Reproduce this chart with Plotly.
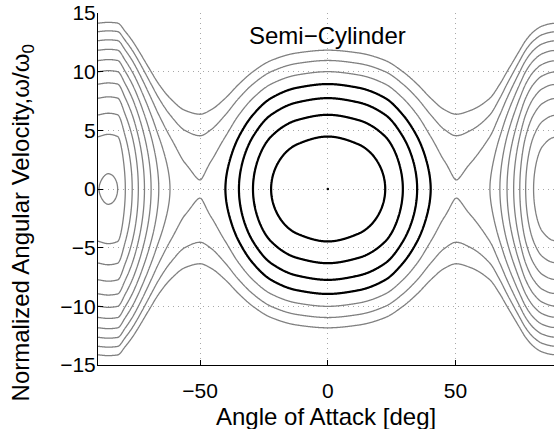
import numpy as np
import plotly.graph_objects as go

# ---- data ----
# potential-like function U(alpha): phase curves satisfy omega^2 + U(alpha) = level
alpha_knots = [-90, -86, -82.3, -79.3, -76.6, -74.2, -71.8, -69.2, -66.2, -61.8, -56, -50, -45.5,
               -40.1, -34.8, -29.3, -22.2, -12, 0, 12, 22.5, 29.4, 35.0, 40.3, 45.5, 50.3, 56,
               63.5, 67.4, 70.2, 72.8, 75.2, 77.5, 80.6, 84, 88.6, 92]
U_knots = [-59.8, -61.7, -60, -40, -20, 0, 20, 40, 60, 80, 95, 99.4, 94,
           80, 60, 40, 20, 5.5, 0, 5.5, 20, 40, 60, 80, 94, 99.4, 95,
           80, 60, 40, 20, 0, -20, -40, -53, -59.3, -59.6]
gray_levels = [-60, -40, -20, 0, 20, 40, 60, 80, 100, 120, 140]
black_levels = [20, 40, 60, 80]
center_alpha = [0]
center_omega = [0]
x_ticks = [-50, 0, 50]
y_ticks = [-15, -10, -5, 0, 5, 10, 15]


def pchip(xk, yk, x):
    xk = np.asarray(xk, float)
    yk = np.asarray(yk, float)
    h = np.diff(xk)
    d = np.diff(yk) / h
    n = len(xk)
    m = np.zeros(n)
    for k in range(1, n - 1):
        if d[k - 1] * d[k] <= 0:
            m[k] = 0.0
        else:
            w1 = 2 * h[k] + h[k - 1]
            w2 = h[k] + 2 * h[k - 1]
            m[k] = (w1 + w2) / (w1 / d[k - 1] + w2 / d[k])
    m[0] = d[0]
    m[-1] = d[-1]
    idx = np.clip(np.searchsorted(xk, x) - 1, 0, n - 2)
    t = (x - xk[idx]) / h[idx]
    h00 = 2 * t**3 - 3 * t**2 + 1
    h10 = t**3 - 2 * t**2 + t
    h01 = -2 * t**3 + 3 * t**2
    h11 = t**3 - t**2
    return h00 * yk[idx] + h10 * h[idx] * m[idx] + h01 * yk[idx + 1] + h11 * h[idx] * m[idx + 1]


alpha = np.round(np.arange(-90, 92.01, 0.25), 3)
omega = np.round(np.arange(-16, 16.001, 0.1), 3)
U = pchip(alpha_knots, U_knots, alpha)
Z = np.round(omega[:, None] ** 2 + U[None, :], 3)

mask = np.abs(alpha) <= 46
fig = go.Figure()
fig.add_trace(go.Contour(
    x=alpha, y=omega, z=Z,
    contours=dict(start=min(gray_levels), end=max(gray_levels),
                  size=gray_levels[1] - gray_levels[0], coloring='none'),
    line=dict(color='#808080', width=1.3),
    showscale=False, hoverinfo='skip'))
fig.add_trace(go.Contour(
    x=alpha[mask], y=omega, z=Z[:, mask],
    contours=dict(start=min(black_levels), end=max(black_levels),
                  size=black_levels[1] - black_levels[0], coloring='none'),
    line=dict(color='black', width=2.2),
    showscale=False, hoverinfo='skip'))
fig.add_trace(go.Scatter(x=center_alpha, y=center_omega, mode='markers',
                         marker=dict(color='black', size=2.5), hoverinfo='skip'))

fam = 'Liberation Sans, Arial, Helvetica, sans-serif'
tick_font = dict(family=fam, size=21, color='black')
title_font = dict(family=fam, size=24, color='black')
axis_common = dict(ticks='inside', ticklen=5, tickcolor='black', showline=True, linecolor='black',
                   linewidth=1, mirror=False, zeroline=False, showgrid=True, gridcolor='#a8a8a8',
                   griddash='1px,4px', gridwidth=1, tickfont=tick_font)
fig.update_layout(
    width=554, height=429,
    margin=dict(l=98, r=0, t=13, b=64),
    paper_bgcolor='white', plot_bgcolor='white',
    showlegend=False, font=tick_font,
    xaxis=dict(range=[-90, 88.6], tickvals=x_ticks, ticklabelstandoff=7, **axis_common),
    yaxis=dict(range=[-15, 15], tickvals=y_ticks, ticklabelstandoff=-3, **axis_common),
    annotations=[
        dict(text='Semi\u2212Cylinder', x=0, y=13.1, xref='x', yref='y', showarrow=False,
             font=title_font),
        dict(text='Angle of Attack [deg]', x=0.5, y=-0.146, xref='paper', yref='paper',
             xanchor='center', yanchor='middle', showarrow=False, font=title_font),
        dict(text='Normalized Angular Velocity,ω/ω<sub>0</sub>', x=-0.1667, y=0.405,
             xref='paper', yref='paper', xanchor='center', yanchor='middle', textangle=-90,
             showarrow=False, font=title_font),
    ],
)
fig.write_html('out.html', config={'displayModeBar': False},
               post_script="document.body.style.margin='0';document.body.style.overflow='hidden';")
